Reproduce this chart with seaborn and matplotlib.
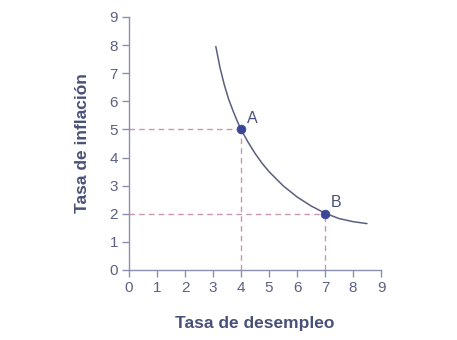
import matplotlib
matplotlib.use("Agg")
import matplotlib.pyplot as plt
import seaborn as sns
import pandas as pd

# Curve
curve_x = [3.1, 3.25, 3.4, 3.55, 3.7, 3.85, 4.0, 4.25, 4.5, 4.75, 5.0, 5.5, 6.0, 6.5, 7.0, 7.5, 8.0, 8.5]
curve_y = [7.95, 7.2, 6.6, 6.1, 5.7, 5.33, 5.0, 4.55, 4.15, 3.8, 3.5, 3.0, 2.6, 2.28, 2.02, 1.83, 1.72, 1.65]

point_labels = ["A", "B"]
point_x = [4, 7]
point_y = [5, 2]

ticks = list(range(0, 10))

sns.set_theme(style="white")
plt.rcParams['font.family'] = ['Liberation Sans', 'DejaVu Sans']

axis_col = "#8d8fae"
text_col = "#4a5178"
tick_col = "#5b6184"
curve_col = "#5c5e80"
dash_col = "#c796b0"
pt_col = "#3b4796"

fig = plt.figure(figsize=(4.57, 3.40), dpi=100)
ax = fig.add_axes([0.2823, 0.2059, 0.5514, 0.7441])

df = pd.DataFrame({"x": curve_x, "y": curve_y})
sns.lineplot(data=df, x="x", y="y", ax=ax, color=curve_col, linewidth=1.1, sort=True)

for lab, px, py in zip(point_labels, point_x, point_y):
    ax.plot([0, px], [py, py], linestyle=(0, (4, 3)), color=dash_col, linewidth=1.0, zorder=2)
    ax.plot([px, px], [0, py], linestyle=(0, (4, 3)), color=dash_col, linewidth=1.0, zorder=2)

pts = pd.DataFrame({"x": point_x, "y": point_y})
sns.scatterplot(data=pts, x="x", y="y", ax=ax, color=pt_col, s=40, edgecolor=pt_col, zorder=5)

for lab, px, py in zip(point_labels, point_x, point_y):
    ax.text(px + 0.22, py + 0.12, lab, color=text_col, fontsize=11.5, ha="left", va="bottom")

ax.set_xlim(0, 9)
ax.set_ylim(0, 9)
ax.set_xticks(ticks)
ax.set_yticks(ticks)
ax.tick_params(axis="both", colors=axis_col, labelcolor=tick_col, labelsize=11,
               length=5, width=1.0, direction="out", bottom=True, left=True, pad=3)
for s in ["top", "right"]:
    ax.spines[s].set_visible(False)
for s in ["left", "bottom"]:
    ax.spines[s].set_color(axis_col)
    ax.spines[s].set_linewidth(1.0)

ax.set_xlabel("Tasa de desempleo", color=text_col, fontsize=12.5, fontweight="bold", labelpad=15)
ax.set_ylabel("Tasa de inflación", color=text_col, fontsize=12.5, fontweight="bold", labelpad=14)

fig.savefig("out.png", dpi=100, facecolor="white")
